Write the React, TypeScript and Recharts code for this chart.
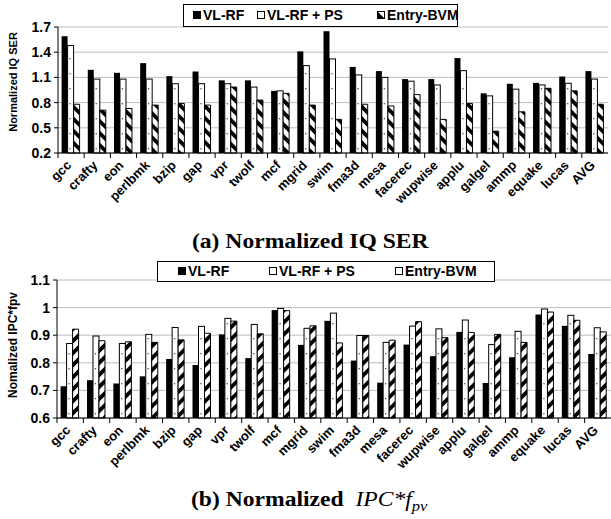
import React from 'react';
import { BarChart, Bar, XAxis, YAxis, CartesianGrid } from 'recharts';

const benchmarks = ['gcc', 'crafty', 'eon', 'perlbmk', 'bzip', 'gap', 'vpr', 'twolf', 'mcf', 'mgrid', 'swim', 'fma3d', 'mesa', 'facerec', 'wupwise', 'applu', 'galgel', 'ammp', 'equake', 'lucas', 'AVG'];

// (a) normalized IQ SER
const serVlrf = [1.59, 1.19, 1.155, 1.27, 1.115, 1.17, 1.065, 1.065, 0.94, 1.41, 1.65, 1.225, 1.175, 1.08, 1.08, 1.33, 0.91, 1.025, 1.035, 1.11, 1.175];
const serVlrfPs = [1.48, 1.08, 1.08, 1.08, 1.025, 1.025, 1.025, 0.985, 0.94, 1.24, 1.32, 1.13, 1.1, 1.055, 1.01, 1.18, 0.88, 0.96, 1.01, 1.03, 1.08];
const serEntryBvm = [0.78, 0.71, 0.73, 0.77, 0.79, 0.77, 0.985, 0.83, 0.91, 0.77, 0.6, 0.78, 0.76, 0.895, 0.6, 0.79, 0.46, 0.69, 0.97, 0.94, 0.78];
const serTicks = [0.2, 0.5, 0.8, 1.1, 1.4, 1.7];

// (b) normalized IPC*fpv
const ipcVlrf = [0.715, 0.737, 0.725, 0.751, 0.814, 0.792, 0.903, 0.817, 0.991, 0.865, 0.952, 0.808, 0.728, 0.866, 0.824, 0.912, 0.727, 0.82, 0.975, 0.934, 0.832];
const ipcVlrfPs = [0.87, 0.897, 0.87, 0.903, 0.928, 0.932, 0.961, 0.939, 0.997, 0.925, 0.98, 0.899, 0.874, 0.933, 0.923, 0.955, 0.866, 0.914, 0.995, 0.972, 0.927];
const ipcEntryBvm = [0.922, 0.88, 0.876, 0.874, 0.883, 0.907, 0.951, 0.905, 0.989, 0.934, 0.872, 0.899, 0.882, 0.949, 0.891, 0.91, 0.903, 0.874, 0.984, 0.954, 0.912];
const ipcTicks = [0.6, 0.7, 0.8, 0.9, 1, 1.1];

const serData = benchmarks.map((name, i) => ({ name, vlrf: serVlrf[i], ps: serVlrfPs[i], bvm: serEntryBvm[i] }));
const ipcData = benchmarks.map((name, i) => ({ name, vlrf: ipcVlrf[i], ps: ipcVlrfPs[i], bvm: ipcEntryBvm[i] }));

const FONT = '"Liberation Sans", Arial, sans-serif';
const SERIF = '"Liberation Serif", "Times New Roman", serif';

// white bar with a column of small dots
const DottedBar = (props: any) => {
  const { x, y, width, height } = props;
  if (!height || height <= 0) return null;
  const dots = [];
  for (let cy = y + height - 5; cy > y + 3; cy -= 15) {
    dots.push(<rect key={cy} x={x + width * 0.3} y={cy} width={1.3} height={1.3} fill="#555" />);
  }
  return (
    <g>
      <rect x={x} y={y} width={width} height={height} fill="#fff" stroke="#000" strokeWidth={1} />
      {dots}
    </g>
  );
};

const makeTick = (half: number) => (props: any) => {
  const { x, y, payload } = props;
  return (
    <g>
      <line x1={x - half} y1={y} x2={x - half} y2={y + 5} stroke="#000" />
      <text
        x={x + 1}
        y={y + 13}
        transform={`rotate(-45, ${x + 1}, ${y + 13})`}
        textAnchor="end"
        fontSize={13}
        fontWeight="bold"
        fontFamily={FONT}
        fill="#000"
      >
        {payload.value}
      </text>
    </g>
  );
};

const yLabel = (text: string, dx: number, dy: number, size: number) => (props: any) => {
  const vb = props.viewBox || { x: 0, y: 0, width: 0, height: 0 };
  const cx = vb.x + dx;
  const cy = vb.y + vb.height / 2 + dy;
  return (
    <text x={cx} y={cy} transform={`rotate(-90, ${cx}, ${cy})`} textAnchor="middle" fontSize={size} fontWeight="bold" fontFamily={FONT} fill="#000">
      {text}
    </text>
  );
};

const Swatch = ({ kind }: { kind: string }) => (
  <svg width={8} height={8} style={{ marginRight: 2, verticalAlign: 'middle', position: 'relative', top: -1 }}>
    <rect x={0.5} y={0.5} width={7} height={7} fill={kind === 'solid' ? '#000' : kind === 'hatchTop' ? 'url(#legendHatch)' : '#fff'} stroke="#000" strokeWidth={1} />
  </svg>
);

const LegendBox = ({ left, top, width, height, items }: any) => (
  <div style={{ position: 'absolute', left, top, width, height, border: '1.5px solid #000', background: '#fff', boxSizing: 'border-box', fontFamily: FONT, fontWeight: 'bold', fontSize: 14 }}>
    {items.map((it: any) => (
      <div key={it.label} style={{ position: 'absolute', left: it.x, top: 0, height: height - 3, lineHeight: `${height - 3}px`, whiteSpace: 'nowrap' }}>
        <Swatch kind={it.kind} />
        {it.label}
      </div>
    ))}
  </div>
);

const axisTick = { fontSize: 14, fontWeight: 'bold', fill: '#000', fontFamily: FONT };

export default function App() {
  return (
    <div style={{ position: 'absolute', left: 0, top: 0, width: 611, height: 519, background: '#fff', overflow: 'hidden' }}>
      <svg width={0} height={0} style={{ position: 'absolute' }}>
        <defs>
          <pattern id="hatchBack" patternUnits="userSpaceOnUse" width={8.5} height={8.5} patternTransform="rotate(-45)">
            <rect width={8.5} height={8.5} fill="#fff" />
            <rect x={0} y={0} width={3.8} height={8.5} fill="#000" />
          </pattern>
          <pattern id="hatchFwd" patternUnits="userSpaceOnUse" width={8.5} height={8.5} patternTransform="rotate(45)">
            <rect width={8.5} height={8.5} fill="#fff" />
            <rect x={0} y={0} width={3.8} height={8.5} fill="#000" />
          </pattern>
          <pattern id="legendHatch" patternUnits="userSpaceOnUse" width={8} height={8}>
            <rect width={8} height={8} fill="#fff" />
            <path d="M0,0 L8,8 L0,8 Z" fill="#000" />
          </pattern>
        </defs>
      </svg>

      <div style={{ position: 'absolute', left: 0, top: 0 }}>
        <BarChart width={611} height={215} data={serData} margin={{ top: 27, right: 3, bottom: 0, left: 0 }} barGap={0} barCategoryGap={3.6}>
          <CartesianGrid vertical={false} stroke="#bdbdbd" />
          <XAxis dataKey="name" interval={0} height={62} tickSize={0} tickMargin={0} stroke="#000" tick={makeTick(550 / 42)} />
          <YAxis
            width={58}
            domain={[0.2, 1.7]}
            ticks={serTicks}
            tickFormatter={(v: number) => v.toFixed(1)}
            tickSize={4}
            tickMargin={3}
            stroke="#000"
            tick={axisTick}
            label={{ content: yLabel('Normalized IQ SER', 17, -8, 11) }}
          />
          <Bar dataKey="vlrf" name="VL-RF" fill="#000" isAnimationActive={false} />
          <Bar dataKey="ps" name="VL-RF + PS" fill="#fff" shape={DottedBar} isAnimationActive={false} />
          <Bar dataKey="bvm" name="Entry-BVM" fill="url(#hatchBack)" stroke="#000" strokeWidth={1} isAnimationActive={false} />
        </BarChart>
      </div>
      <LegendBox
        left={183}
        top={4}
        width={275}
        height={23}
        items={[
          { label: 'VL-RF', kind: 'solid', x: 9 },
          { label: 'VL-RF + PS', kind: 'white', x: 73 },
          { label: 'Entry-BVM', kind: 'hatchTop', x: 193 },
        ]}
      />
      <div style={{ position: 'absolute', left: 0, top: 231, width: 620, textAlign: 'center', fontFamily: SERIF, fontWeight: 'bold', fontSize: 20, lineHeight: '20px' }}>
        <span style={{ display: 'inline-block', transform: 'scaleX(1.18)' }}>(a) Normalized IQ SER</span>
      </div>

      <div style={{ position: 'absolute', left: 0, top: 255 }}>
        <BarChart width={611} height={230} data={ipcData} margin={{ top: 25, right: 0, bottom: 0, left: 0 }} barGap={0} barCategoryGap={3.6}>
          <CartesianGrid vertical={false} stroke="#bdbdbd" />
          <XAxis dataKey="name" interval={0} height={67} tickSize={0} tickMargin={0} stroke="#000" tick={makeTick(554 / 42)} />
          <YAxis
            width={57}
            domain={[0.6, 1.1]}
            ticks={ipcTicks}
            tickSize={4}
            tickMargin={3}
            stroke="#000"
            tick={axisTick}
            label={{ content: yLabel('Nomalized IPC*fpv', 17, -4, 12) }}
          />
          <Bar dataKey="vlrf" name="VL-RF" fill="#000" isAnimationActive={false} />
          <Bar dataKey="ps" name="VL-RF + PS" fill="#fff" shape={DottedBar} isAnimationActive={false} />
          <Bar dataKey="bvm" name="Entry-BVM" fill="url(#hatchFwd)" stroke="#000" strokeWidth={1} isAnimationActive={false} />
        </BarChart>
      </div>
      <LegendBox
        left={157}
        top={261}
        width={338}
        height={21}
        items={[
          { label: 'VL-RF', kind: 'solid', x: 20 },
          { label: 'VL-RF + PS', kind: 'white', x: 111 },
          { label: 'Entry-BVM', kind: 'white', x: 237 },
        ]}
      />
      <div style={{ position: 'absolute', left: 0, top: 489, width: 618, textAlign: 'center', fontFamily: SERIF, fontWeight: 'bold', fontSize: 20, lineHeight: '20px' }}>
        <span style={{ display: 'inline-block', transform: 'scaleX(1.18)' }}>
          (b) Normalized&nbsp;&nbsp;<span style={{ fontWeight: 'normal', fontStyle: 'italic' }}>IPC*f<sub style={{ fontSize: 14 }}>pv</sub></span>
        </span>
      </div>
    </div>
  );
}
